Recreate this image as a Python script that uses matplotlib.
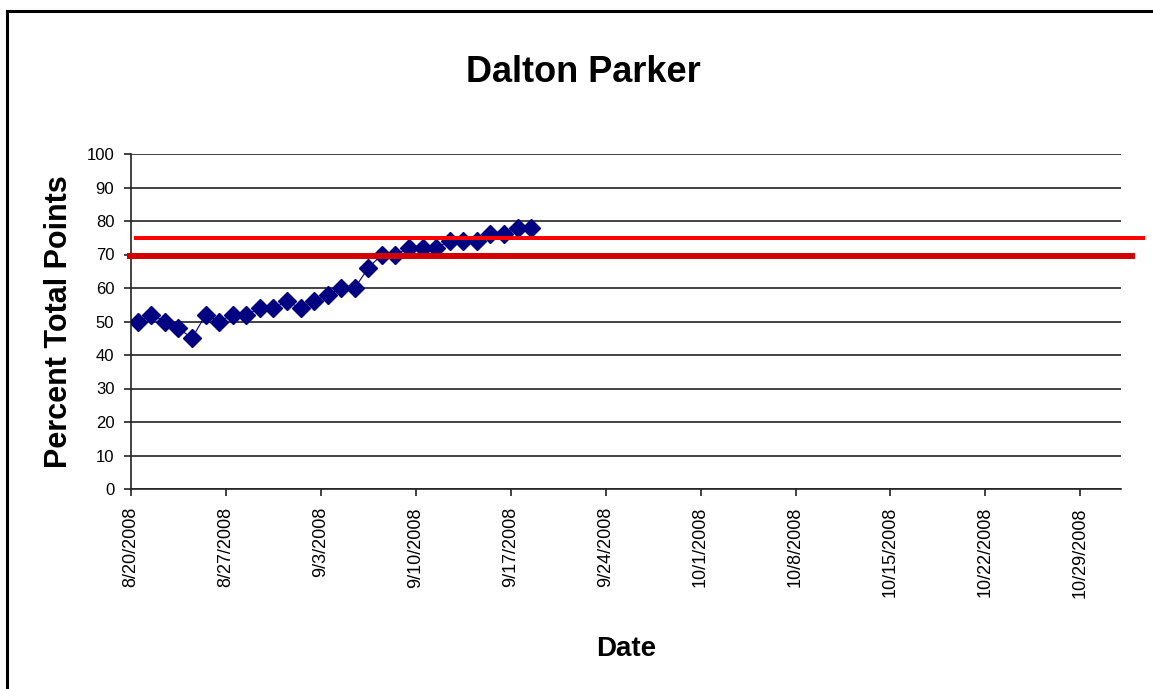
import matplotlib
matplotlib.use("Agg")
import matplotlib.pyplot as plt
import matplotlib.dates as mdates
from matplotlib.lines import Line2D
import numpy as np

plt.rcParams["font.family"] = ["Liberation Sans", "DejaVu Sans"]

# daily scores, starting 8/20/2008
start_date = "2008-08-20"
scores = [50, 52, 50, 48, 45, 52, 50, 52, 52, 54,
          54, 56, 54, 56, 58, 60, 60, 66, 70, 70,
          72, 72, 72, 74, 74, 74, 76, 76, 78, 78]
target_lines = [75, 69.7]
tick_dates = ["2008-08-20", "2008-08-27", "2008-09-03", "2008-09-10", "2008-09-17",
              "2008-09-24", "2008-10-01", "2008-10-08", "2008-10-15", "2008-10-22",
              "2008-10-29"]
tick_labels = ["8/20/2008", "8/27/2008", "9/3/2008", "9/10/2008", "9/17/2008",
               "9/24/2008", "10/1/2008", "10/8/2008", "10/15/2008", "10/22/2008",
               "10/29/2008"]

days = np.datetime64(start_date) + np.arange(len(scores)).astype("timedelta64[D]")
# excel puts each day's point in the middle of the day
x = mdates.date2num(days.astype("datetime64[s]")) + 0.5

fig = plt.figure(figsize=(11.53, 6.89), dpi=100)
ax = fig.add_axes([131 / 1153, 1 - 489 / 689, 990 / 1153, 335 / 689])

ax.set_ylim(0, 100)
ax.set_yticks(range(0, 101, 10))
ax.set_xlim(mdates.date2num(np.datetime64("2008-08-20")), mdates.date2num(np.datetime64("2008-11-01")))
ax.set_xticks(mdates.date2num(np.array(tick_dates, dtype="datetime64[D]")))
ax.set_xticklabels(tick_labels, rotation=90)

ax.grid(axis="y", color="#222222", linewidth=1.2)
ax.set_axisbelow(True)
for side in ["top", "right"]:
    ax.spines[side].set_visible(False)
for side in ["left", "bottom"]:
    ax.spines[side].set_color("#222222")
    ax.spines[side].set_linewidth(1.2)
ax.tick_params(axis="both", direction="out", length=5, width=1.2, color="#222222",
               labelsize=12, pad=8)
ax.tick_params(axis="x", labelsize=13)
ax.tick_params(axis="y", pad=7)

ax.plot(x, scores, color="#000080", linewidth=0.8, marker="D", markersize=9,
        markerfacecolor="#000080", markeredgecolor="#000080", zorder=3)

# goal lines overhang the plot area
ax.axhline(target_lines[0], xmin=5 / 990, xmax=1012 / 990, color="#ff0000",
           linewidth=2.9, clip_on=False, zorder=4)
ax.axhline(target_lines[1], xmin=-1 / 990, xmax=1001 / 990, color="#d40000",
           linewidth=4.3, clip_on=False, zorder=4)

ax.set_title("Dalton Parker", fontsize=26, fontweight="bold", pad=0,
             x=(583 - 131) / 990, y=1.215)
ax.set_ylabel("Percent Total Points", fontsize=22, fontweight="bold", labelpad=9)
ax.set_xlabel("Date", fontsize=20, fontweight="bold", labelpad=28)

# frame of the original picture (only left and top visible)
fig.add_artist(Line2D([7 / 1153, 7 / 1153], [0, 1 - 11 / 689], color="black", linewidth=2.2))
fig.add_artist(Line2D([7 / 1153, 1], [1 - 11 / 689, 1 - 11 / 689], color="black", linewidth=2.2))

fig.savefig("out.png", dpi=100)
